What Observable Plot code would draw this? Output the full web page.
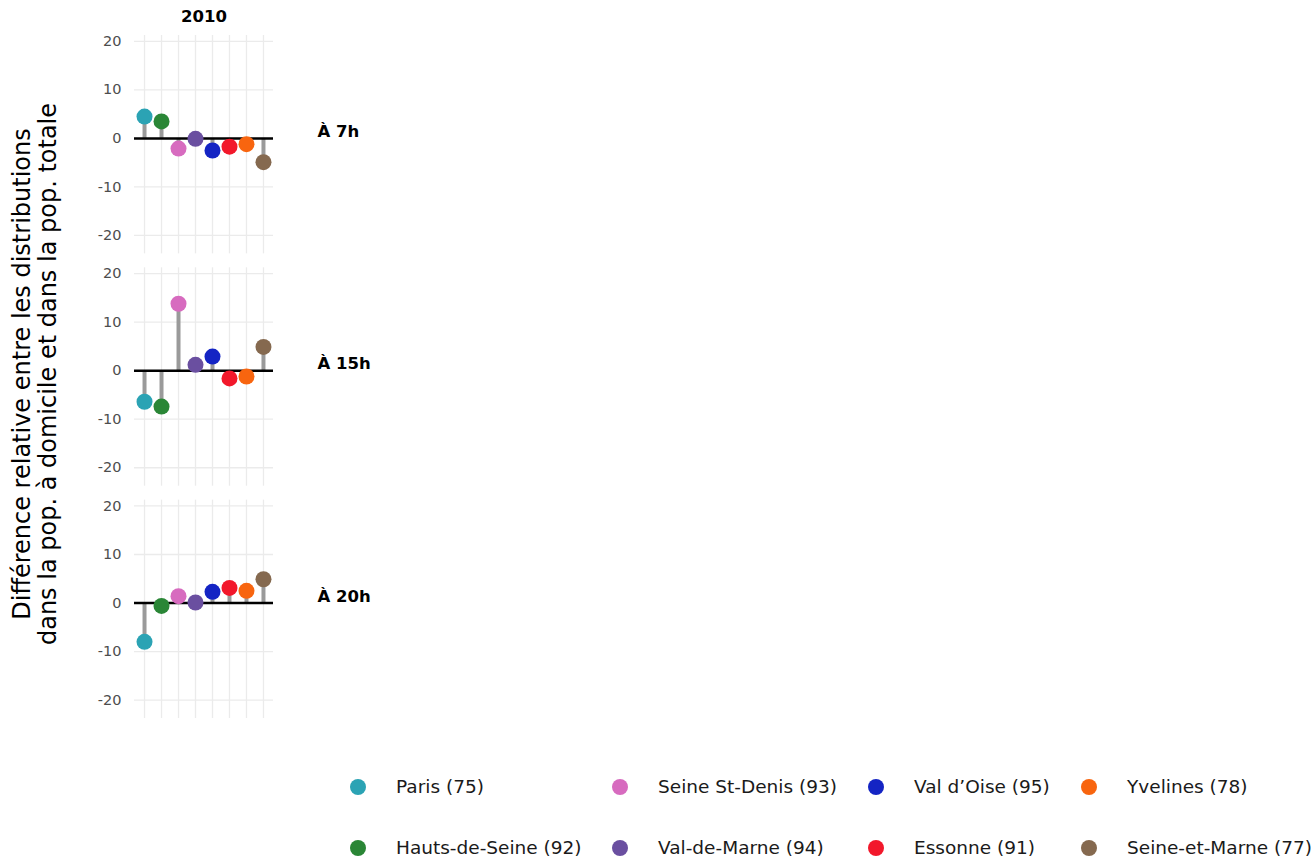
<!DOCTYPE html>
<html>
<head>
<meta charset="utf-8">
<script src="https://cdn.jsdelivr.net/npm/d3@7"></script>
<script src="https://cdn.jsdelivr.net/npm/@observablehq/plot@0.6"></script>
<style>
  body { margin: 0; background: #fff; font-family: "DejaVu Sans", sans-serif; }
  #wrap { position: relative; width: 1316px; height: 859px; overflow: hidden; }
  #chart { position: absolute; left: 0; top: 0; }
  #ytitle { position: absolute; left: 35px; top: 374px; transform: translate(-50%, -50%) rotate(-90deg);
            white-space: nowrap; text-align: center; font-size: 24px; line-height: 26px; color: #000; }
  #legend { position: absolute; left: 350px; top: 756px; display: grid;
            grid-template-columns: 262px 256px 213px 200px; grid-auto-flow: column;
            grid-template-rows: 61px 61px; }
  .item { display: flex; align-items: center; font-size: 18.5px; color: #1a1a1a; white-space: nowrap; }
  .sw { width: 16px; height: 16px; border-radius: 50%; margin-right: 30px; flex: none; }
</style>
</head>
<body>
<div id="wrap">
  <div id="chart"></div>
  <div id="ytitle">Différence relative entre les distributions<br>dans la pop. à domicile et dans la pop. totale</div>
  <div id="legend"></div>
</div>
<script>
const annee = "2010";
const departements = ["Paris (75)", "Hauts-de-Seine (92)", "Seine St-Denis (93)", "Val-de-Marne (94)",
                      "Val d’Oise (95)", "Essonne (91)", "Yvelines (78)", "Seine-et-Marne (77)"];
const couleurs = ["#2ba3b4", "#2a8636", "#d76bbf", "#6a4fa0", "#1424c4", "#f2182b", "#f8650f", "#85694f"];
const heures = ["À 7h", "À 15h", "À 20h"];
const val7h  = [4.5, 3.5, -2.1, -0.1, -2.5, -1.7, -1.2, -4.9];
const val15h = [-6.4, -7.4, 13.8, 1.2, 2.9, -1.6, -1.2, 4.9];
const val20h = [-8.0, -0.6, 1.4, 0.1, 2.3, 3.1, 2.5, 4.9];
const yTicks = [-20, -10, 0, 10, 20];
const legendOrder = ["Paris (75)", "Hauts-de-Seine (92)", "Seine St-Denis (93)", "Val-de-Marne (94)",
                     "Val d’Oise (95)", "Essonne (91)", "Yvelines (78)", "Seine-et-Marne (77)"];

const series = [val7h, val15h, val20h];
const data = heures.flatMap((h, j) => series[j].map((v, i) => ({annee, heure: h, dep: departements[i], v})));

const plot = Plot.plot({
  width: 420,
  height: 740,
  marginLeft: 134,
  marginRight: 147,
  marginTop: 35,
  marginBottom: 22,
  style: {fontFamily: "DejaVu Sans", fontSize: "14px", background: "white"},
  x: {type: "point", domain: departements, padding: 0.59, round: false, axis: null},
  y: {domain: [-23.8, 21.2], axis: null},
  fy: {domain: heures, paddingInner: 0.06, paddingOuter: 0, round: false, axis: null},
  fx: {domain: [annee], paddingInner: 0, paddingOuter: 0, round: false, axis: null},
  color: {domain: departements, range: couleurs},
  facet: {data, x: "annee", y: "heure"},
  marks: [
    Plot.ruleY(yTicks, {stroke: "#ebebeb", strokeWidth: 1.3}),
    Plot.ruleX(departements, {x: d => d, stroke: "#ebebeb", strokeWidth: 1.3}),
    Plot.axisY({ticks: yTicks, tickSize: 0, tickPadding: 13, tickFormat: d => `${d}`, label: null,
                fill: "#4d4d4d", fontSize: 14.5}),
    Plot.axisFy({anchor: "right", tickSize: 0, tickPadding: 44, label: null, fontWeight: "bold",
                 fontSize: 16.5, fill: "black", dy: -13}),
    Plot.axisFx({anchor: "top", tickSize: 0, tickPadding: 14, label: null, fontWeight: "bold",
                 fontSize: 16.5, fill: "black"}),
    Plot.ruleX(data, {x: "dep", y1: 0, y2: "v", stroke: "#9a9a9a", strokeWidth: 4}),
    Plot.ruleY([0], {stroke: "black", strokeWidth: 2.5}),
    Plot.dot(data, {x: "dep", y: "v", fill: "dep", r: 8})
  ]
});
document.getElementById("chart").appendChild(plot);

const leg = document.getElementById("legend");
legendOrder.forEach(name => {
  const it = document.createElement("div");
  it.className = "item";
  const sw = document.createElement("span");
  sw.className = "sw";
  sw.style.background = couleurs[departements.indexOf(name)];
  const lb = document.createElement("span");
  lb.textContent = name;
  it.appendChild(sw);
  it.appendChild(lb);
  leg.appendChild(it);
});
</script>
</body>
</html>
